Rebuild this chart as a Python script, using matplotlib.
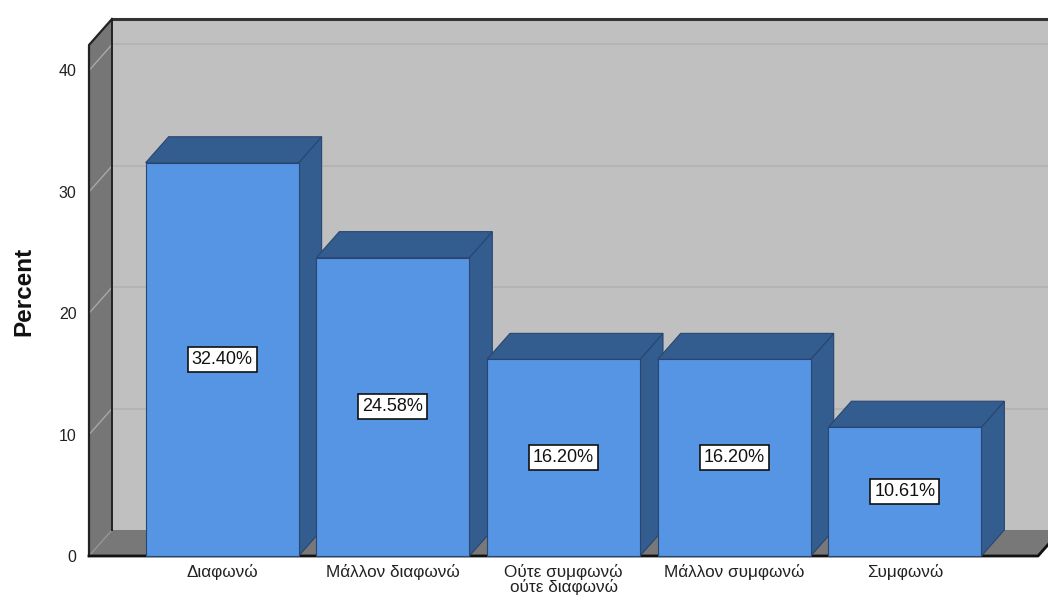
import matplotlib
matplotlib.use("Agg")
import matplotlib.pyplot as plt
from matplotlib.patches import Polygon, Rectangle

categories = ["Διαφωνώ", "Μάλλον διαφωνώ", "Ούτε συμφωνώ\nούτε διαφωνώ", "Μάλλον συμφωνώ", "Συμφωνώ"]
percents = [32.40, 24.58, 16.20, 16.20, 10.61]
value_labels = ["32.40%", "24.58%", "16.20%", "16.20%", "10.61%"]
yticks = [0, 10, 20, 30, 40]

plt.rcParams['font.family'] = ['Liberation Sans', 'DejaVu Sans']

W, H = 1048, 596
fig = plt.figure(figsize=(W / 100, H / 100), dpi=100)
# front plane in pixels
fx0, fx1 = 89, 1038
fy0, fy1 = 556, 45   # from top
ax = fig.add_axes([fx0 / W, 1 - fy0 / H, (fx1 - fx0) / W, (fy0 - fy1) / H])
x0, x1 = -0.78, 4.78
top = 42.1
ax.set_xlim(x0, x1)
ax.set_ylim(0, top)
for s in ax.spines.values():
    s.set_visible(False)
ax.patch.set_visible(False)

DX = 23 / ((fx1 - fx0) / (x1 - x0))
DY = 26 / ((fy0 - fy1) / top)

wall = '#C0C0C0'
side_gray = '#767676'
floor_gray = '#787878'

# back wall
ax.add_patch(Polygon([(x0 + DX, DY), (x1 + DX, DY), (x1 + DX, top + DY), (x0 + DX, top + DY)],
                     closed=True, fc=wall, ec='none', clip_on=False, zorder=1))
# left side wall
ax.add_patch(Polygon([(x0, 0), (x0 + DX, DY), (x0 + DX, top + DY), (x0, top)],
                     closed=True, fc=side_gray, ec='none', clip_on=False, zorder=1))
# floor
ax.add_patch(Polygon([(x0, 0), (x1, 0), (x1 + DX, DY), (x0 + DX, DY)],
                     closed=True, fc=floor_gray, ec='none', clip_on=False, zorder=1))

# gridlines
for v in yticks[1:]:
    ax.plot([x0 + DX, x1 + DX], [v + DY, v + DY], color='#B2B2B2', lw=1.2, clip_on=False, zorder=2)
    ax.plot([x0, x0 + DX], [v, v + DY], color='#A8A8A8', lw=1.0, clip_on=False, zorder=2)
ax.plot([x0, x0 + DX], [0, DY], color='#959595', lw=1.0, clip_on=False, zorder=2)

# frame edges
ax.plot([x0 + DX, x1 + DX + 0.2], [top + DY, top + DY], color='#333333', lw=2.2, clip_on=False, zorder=3)
ax.plot([x0, x0, x0 + DX], [0, top, top + DY], color='#222222', lw=1.6, clip_on=False, zorder=3)
ax.plot([x0 + DX, x0 + DX], [DY, top + DY], color='#222222', lw=1.4, clip_on=False, zorder=3)
ax.plot([x0, x1, x1 + DX], [0, 0, DY], color='#111111', lw=2.0, clip_on=False, zorder=3)

# bars
bw = 153 / ((fx1 - fx0) / (x1 - x0))
front_c = '#5595E4'
dark_c = '#335C8F'
edge_c = '#2A4670'
for i, v in enumerate(percents):
    z = 10 + i * 3
    l, r = i - bw / 2, i + bw / 2
    ax.add_patch(Polygon([(r, 0), (r + DX, DY), (r + DX, v + DY), (r, v)], closed=True,
                         fc=dark_c, ec=edge_c, lw=0.8, zorder=z, clip_on=False))
    ax.add_patch(Polygon([(l, v), (r, v), (r + DX, v + DY), (l + DX, v + DY)], closed=True,
                         fc=dark_c, ec=edge_c, lw=0.8, zorder=z, clip_on=False))
    ax.add_patch(Rectangle((l, 0), bw, v, fc=front_c, ec=edge_c, lw=0.8, zorder=z + 1, clip_on=False))
    ax.text(i, v / 2, value_labels[i], ha='center', va='center', fontsize=13, color='#111111',
            zorder=z + 2,
            bbox=dict(boxstyle='square,pad=0.22', fc='white', ec='#111111', lw=1.2))

ax.set_yticks(yticks)
ax.set_yticklabels([str(t) for t in yticks], fontsize=11.5, color='#222222')
ax.set_xticks(range(len(categories)))
ax.set_xticklabels(categories, fontsize=12.3, color='#222222', linespacing=0.9, va='top')
ax.tick_params(axis='both', length=0)
ax.tick_params(axis='y', pad=9)
ax.tick_params(axis='x', pad=6)

fig.text(24 / W, 1 - 291 / H, 'Percent', rotation=90, ha='center', va='center',
         fontsize=17.5, fontweight='bold', color='#111111')

fig.savefig('out.png', dpi=100, facecolor='white')
